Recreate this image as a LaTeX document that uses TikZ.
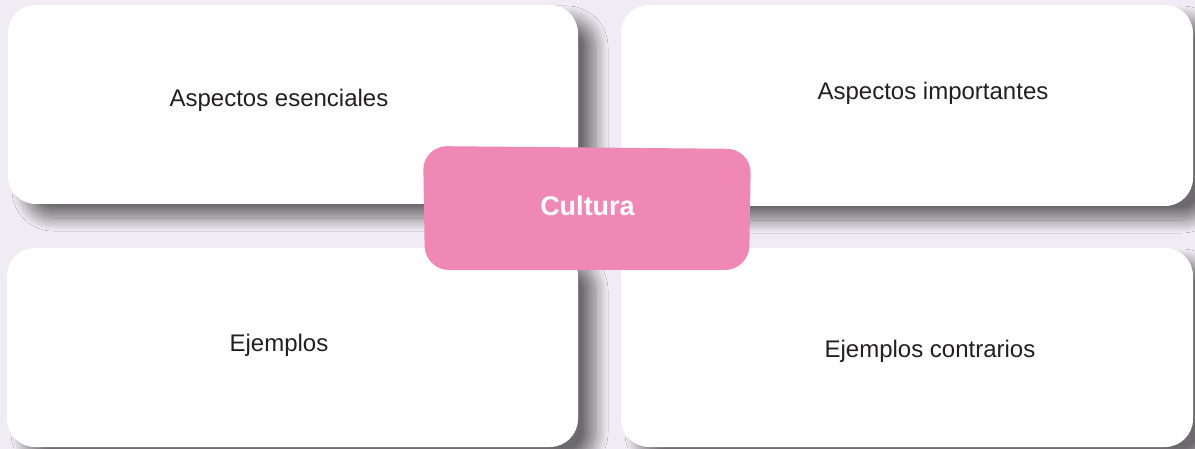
\documentclass[tikz,border=0pt]{standalone}
\usepackage{fontspec}
\setmainfont{Liberation Sans}
\usetikzlibrary{shadows.blur}
\definecolor{bg}{RGB}{241,236,244}
\definecolor{pinkc}{RGB}{240,136,181}
\definecolor{txt}{RGB}{35,31,32}
\tikzset{
  card/.style={draw=none, fill=white, rounded corners=28pt, inner sep=0pt,
    blur shadow={shadow xshift=17pt, shadow yshift=-14pt, shadow blur radius=13pt,
      shadow opacity=55, shadow blur steps=24}},
  lbl/.style={anchor=base, text=txt, font=\fontsize{24}{28}\selectfont, inner sep=0pt},
  hub/.style={fill=pinkc, draw=none, rounded corners=24pt},
  hubtxt/.style={anchor=base, text=white, font=\fontsize{27}{32}\selectfont\bfseries, inner sep=0pt}
}
\begin{document}
\begin{tikzpicture}[x=1pt,y=-1pt]
\useasboundingbox (0,0) rectangle (1195,449);
\fill[bg] (0,0) rectangle (1195,449);
\node[card, minimum width=570pt, minimum height=199pt] (tl) at (293,104.5) {};
\node[card, minimum width=572pt, minimum height=201pt] (tr) at (907,105.5) {};
\node[card, minimum width=571pt, minimum height=199pt] (bl) at (292.5,347.5) {};
\node[card, minimum width=572pt, minimum height=199pt] (br) at (907,347.5) {};
\node[lbl] (tlt) at (279,107) {Aspectos esenciales};
\node[lbl] (trt) at (933,100) {Aspectos importantes};
\node[lbl] (blt) at (279,351) {Ejemplos};
\node[lbl] (brt) at (930,357) {Ejemplos contrarios};
\path[hub] (423,146) -- (751,149) -- (749,270) -- (425,270) -- cycle;
\node[hubtxt] (hubt) at (587.5,216) {Cultura};
\end{tikzpicture}
\end{document}
